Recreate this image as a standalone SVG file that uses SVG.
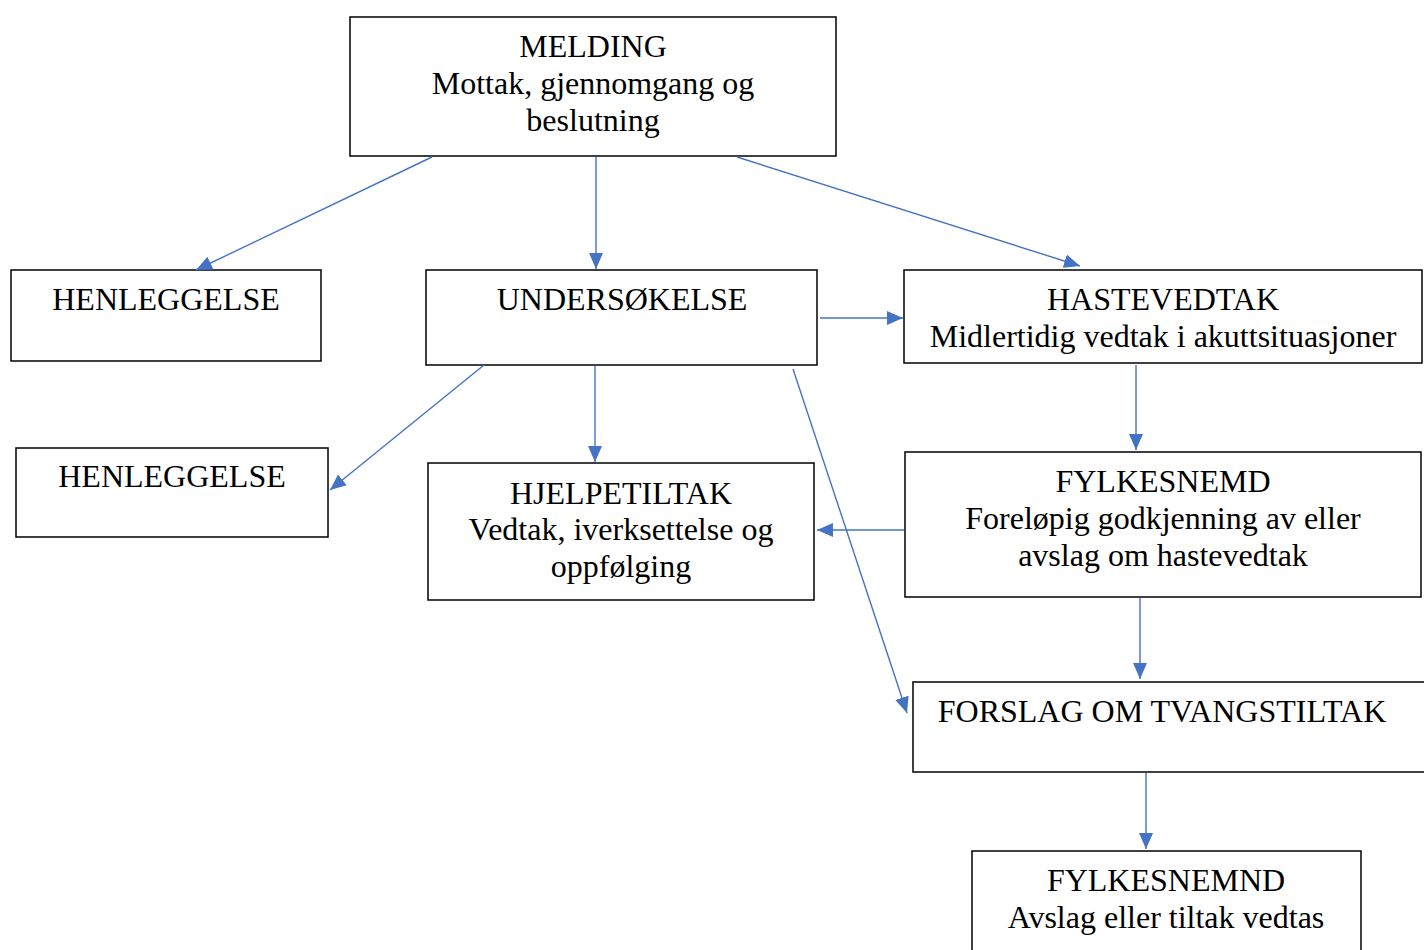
<svg xmlns="http://www.w3.org/2000/svg" width="1424" height="950" viewBox="0 0 1424 950">
<defs>
<marker id="ah" viewBox="0 0 16 14" refX="16" refY="7" markerWidth="16" markerHeight="14" markerUnits="userSpaceOnUse" orient="auto">
<path d="M0,0 L16,7 L0,14 Z" fill="#4472C4"/>
</marker>
<style>
.box{fill:#fff;stroke:#000;stroke-width:1.5}
.t{font-family:"Liberation Serif","Times New Roman",serif;font-size:32px;fill:#000;text-anchor:middle}
.c{stroke:#4472C4;stroke-width:1.4;fill:none;marker-end:url(#ah)}
</style>
</defs>
<rect width="1424" height="950" fill="#fff"/>
<g id="melding"><rect class="box" x="350" y="17" width="486" height="139"/>
<text class="t" x="593" y="57">MELDING</text><text class="t" x="593" y="94">Mottak, gjennomgang og</text><text class="t" x="593" y="131">beslutning</text></g>
<g id="henleggelse1"><rect class="box" x="11" y="270" width="310" height="91"/>
<text class="t" x="166" y="310">HENLEGGELSE</text></g>
<g id="undersokelse"><rect class="box" x="426" y="270" width="391" height="95"/>
<text class="t" x="622" y="310">UNDERSØKELSE</text></g>
<g id="hastevedtak"><rect class="box" x="904" y="270" width="518" height="93"/>
<text class="t" x="1163" y="310">HASTEVEDTAK</text><text class="t" x="1163" y="347">Midlertidig vedtak i akuttsituasjoner</text></g>
<g id="henleggelse2"><rect class="box" x="16" y="448" width="312" height="89"/>
<text class="t" x="172" y="487">HENLEGGELSE</text></g>
<g id="hjelpetiltak"><rect class="box" x="428" y="463" width="386" height="137"/>
<text class="t" x="621" y="504">HJELPETILTAK</text><text class="t" x="621" y="540">Vedtak, iverksettelse og</text><text class="t" x="621" y="577">oppfølging</text></g>
<g id="fylkesnemd"><rect class="box" x="905" y="452" width="516" height="145"/>
<text class="t" x="1163" y="492">FYLKESNEMD</text><text class="t" x="1163" y="529">Foreløpig godkjenning av eller</text><text class="t" x="1163" y="566">avslag om hastevedtak</text></g>
<g id="forslag"><rect class="box" x="913" y="682" width="515" height="90"/>
<text class="t" x="1162" y="722">FORSLAG OM TVANGSTILTAK</text></g>
<g id="fylkesnemnd"><rect class="box" x="972" y="851" width="389" height="105"/>
<text class="t" x="1166" y="891">FYLKESNEMND</text><text class="t" x="1166" y="928">Avslag eller tiltak vedtas</text></g>
<g id="connectors">
<line class="c" x1="432" y1="157" x2="196" y2="270"/>
<line class="c" x1="596" y1="157" x2="596" y2="269"/>
<line class="c" x1="737" y1="157" x2="1080" y2="266"/>
<line class="c" x1="820" y1="318" x2="903" y2="318"/>
<line class="c" x1="484" y1="365" x2="330" y2="490"/>
<line class="c" x1="595" y1="366" x2="595" y2="462"/>
<line class="c" x1="1136" y1="365" x2="1136" y2="450"/>
<line class="c" x1="904" y1="530" x2="817" y2="530"/>
<line class="c" x1="793" y1="369" x2="907" y2="713"/>
<line class="c" x1="1140" y1="598" x2="1140" y2="679"/>
<line class="c" x1="1146" y1="773" x2="1146" y2="849"/>
</g>
</svg>
